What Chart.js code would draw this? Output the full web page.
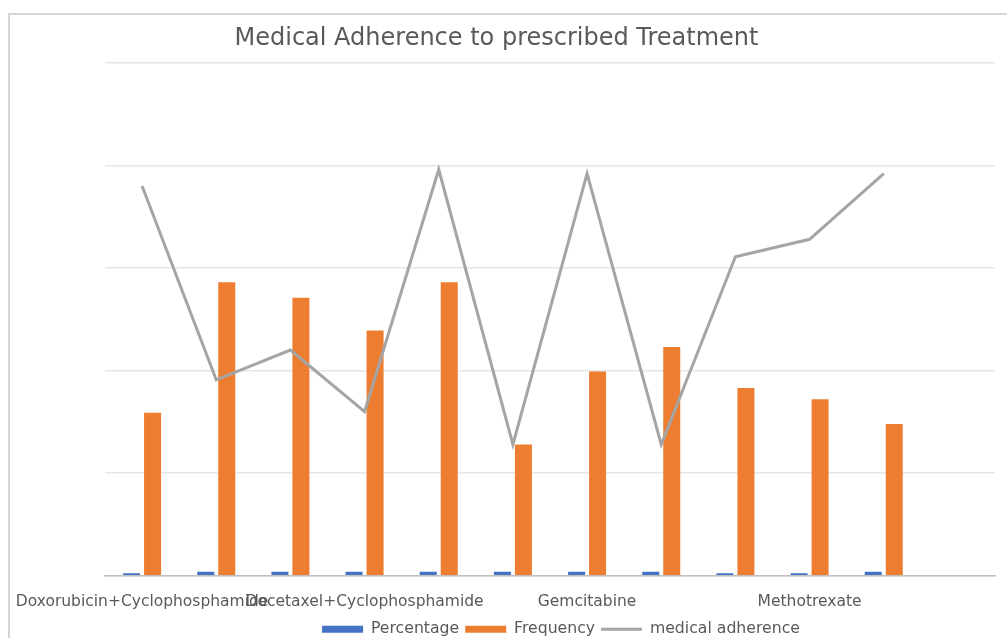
<!DOCTYPE html>
<html>
<head>
<meta charset="utf-8">
<script src="https://cdn.jsdelivr.net/npm/chart.js@4"></script>
<style>
  html, body { margin: 0; padding: 0; background: #fff; width: 1007px; height: 638px; overflow: hidden; position: relative; }
  #frame { position: absolute; left: 8px; top: 13px; width: 1020px; height: 650px; border: 2px solid #d6d6d6; box-sizing: border-box; }
  #cut { position: absolute; left: -4px; top: -24px; font: bold 25px "Liberation Serif", serif; color: #000; letter-spacing: 1px; white-space: nowrap; }
  #wrap { position: absolute; left: -2px; top: 16px; width: 1000px; height: 638px; }
</style>
</head>
<body>
<div id="cut">ADHERENCE</div>
<div id="frame"></div>
<div id="wrap"><canvas id="c"></canvas></div>
<script>
const categories = ['Doxorubicin+Cyclophosphamide', '', '', 'Docetaxel+Cyclophosphamide', '', '', 'Gemcitabine', '', '', 'Methotrexate', '', ''];
const percentage = [0.25, 0.4, 0.4, 0.4, 0.4, 0.4, 0.4, 0.4, 0.25, 0.25, 0.4];
const frequency = [15.9, 28.6, 27.1, 23.9, 28.6, 12.8, 19.9, 22.3, 18.3, 17.2, 14.8];
const adherence = [38.0, 19.1, 22.0, 16.0, 39.6, 12.8, 39.2, 12.8, 31.1, 32.8, 39.2];
const yTicks = { min: 0, max: 50, step: 10 };

const FONT = '"DejaVu Sans", sans-serif';
const GREY = '#595959';

const legendShift = {
  id: 'legendShift',
  afterLayout(chart) {
    const lg = chart.legend;
    if (lg) { lg.left += 11; lg.right += 11; lg.top -= 5; lg.bottom -= 5; }
  }
};

new Chart(document.getElementById('c'), {
  type: 'bar',
  data: {
    labels: categories,
    datasets: [
      { label: 'Percentage', data: percentage, backgroundColor: '#4472C4', order: 1, pointStyle: 'rect',
        categoryPercentage: 0.566, barPercentage: 0.81 },
      { label: 'Frequency', data: frequency, backgroundColor: '#ED7D31', order: 1, pointStyle: 'rect',
        categoryPercentage: 0.566, barPercentage: 0.81 },
      { label: 'medical adherence', type: 'line', data: adherence, borderColor: '#A5A5A5', backgroundColor: '#A5A5A5',
        borderWidth: 3, pointRadius: 0, pointHoverRadius: 0, tension: 0, order: 0, pointStyle: 'line' }
    ]
  },
  plugins: [legendShift],
  options: {
    responsive: true,
    maintainAspectRatio: false,
    animation: false,
    layout: { padding: { left: 0, right: 3, top: 0, bottom: 2 } },
    scales: {
      x: {
        offset: true,
        grid: { display: false },
        border: { display: true, color: '#BFBFBF', width: 1.5 },
        ticks: { autoSkip: false, maxRotation: 0, minRotation: 0, color: GREY,
                 font: { family: FONT, size: 15.5, lineHeight: 0.42 }, padding: 15 },
        afterFit: (scale) => { scale.paddingLeft = 0; scale.paddingRight = 0; }
      },
      y: {
        min: yTicks.min, max: yTicks.max,
        border: { display: false },
        grid: { color: '#E6E6E6', lineWidth: 1.5, drawTicks: false },
        ticks: { display: false, stepSize: yTicks.step },
        afterFit: (scale) => { scale.width = 107; }
      }
    },
    plugins: {
      title: {
        display: true,
        text: 'Medical Adherence to prescribed Treatment',
        color: GREY,
        font: { family: FONT, size: 24, weight: 'normal' },
        padding: { top: 8, bottom: 10 }
      },
      legend: {
        position: 'bottom',
        fullSize: false,
        labels: {
          usePointStyle: true,
          pointStyleWidth: 41,
          boxHeight: 7,
          padding: 6,
          color: GREY,
          font: { family: FONT, size: 15.7 },
          sort: (a, b) => a.datasetIndex - b.datasetIndex
        }
      },
      tooltip: { enabled: false }
    }
  }
});
</script>
</body>
</html>
